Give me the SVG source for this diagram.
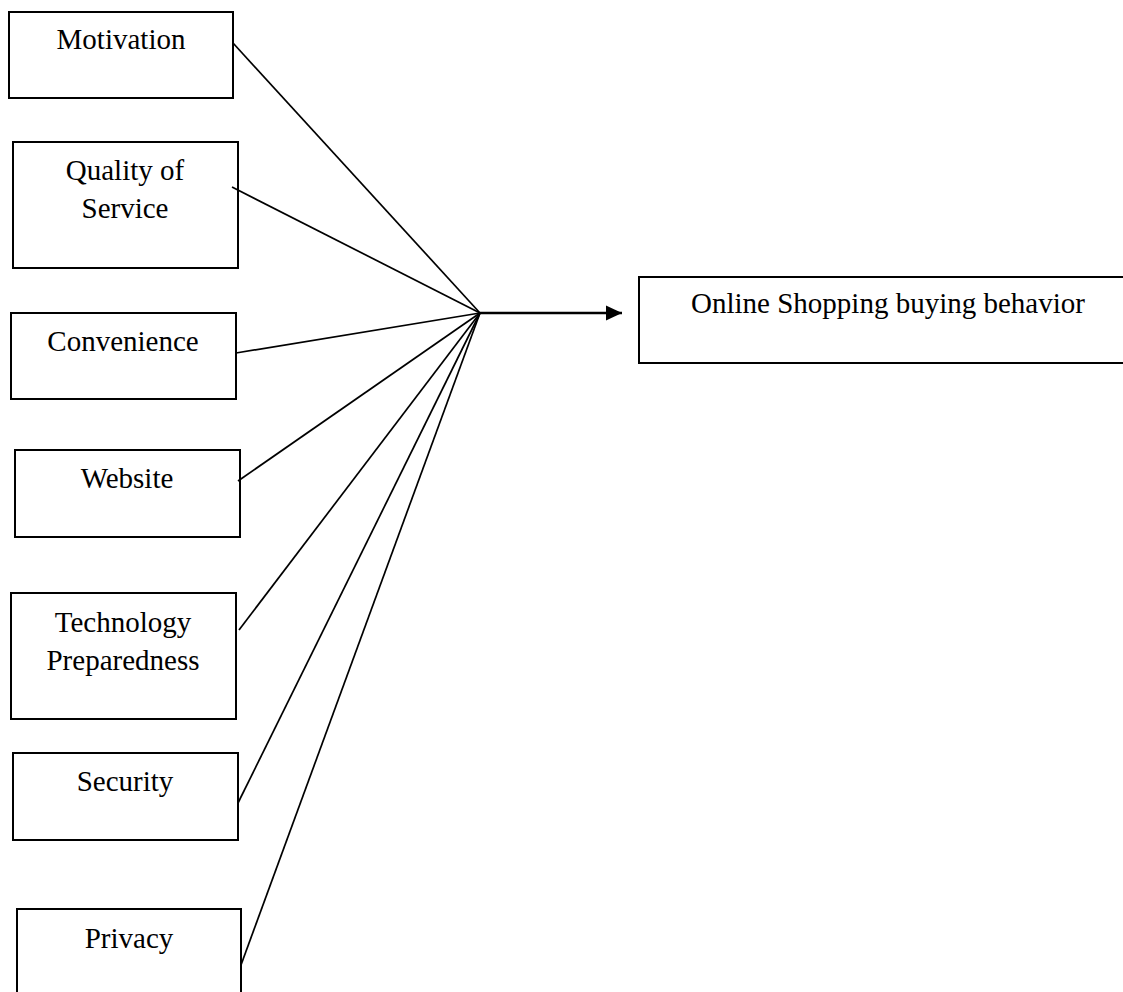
<svg xmlns="http://www.w3.org/2000/svg" width="1123" height="992" viewBox="0 0 1123 992">
<style>
.box{fill:#fff;stroke:#000;stroke-width:2}
.lbl{font-family:"Liberation Serif","Times New Roman",serif;font-size:29px;fill:#000;text-anchor:middle}
.conn{stroke:#000;stroke-width:1.7;fill:none}
.main{stroke:#000;stroke-width:2.4;fill:none}
</style>
<defs>
<marker id="arr" markerWidth="17" markerHeight="17" refX="16" refY="8" orient="auto" markerUnits="userSpaceOnUse">
<path d="M0,0.5 L16,8 L0,15.5 Z" fill="#000"/>
</marker>
</defs>
<rect width="1123" height="992" fill="#fff"/>
<g id="n-motivation"><rect class="box" x="9" y="12" width="224" height="86"/><text class="lbl" x="121" y="49">Motivation</text></g>
<g id="n-quality"><rect class="box" x="13" y="142" width="225" height="126"/><text class="lbl" x="125" y="180">Quality of</text><text class="lbl" x="125" y="218">Service</text></g>
<g id="n-convenience"><rect class="box" x="11" y="313" width="225" height="86"/><text class="lbl" x="123" y="351">Convenience</text></g>
<g id="n-website"><rect class="box" x="15" y="450" width="225" height="87"/><text class="lbl" x="127" y="488">Website</text></g>
<g id="n-technology"><rect class="box" x="11" y="593" width="225" height="126"/><text class="lbl" x="123" y="632">Technology</text><text class="lbl" x="123" y="670">Preparedness</text></g>
<g id="n-security"><rect class="box" x="13" y="753" width="225" height="87"/><text class="lbl" x="125" y="791">Security</text></g>
<g id="n-privacy"><rect class="box" x="17" y="909" width="224" height="100"/><text class="lbl" x="129" y="948">Privacy</text></g>
<g id="n-online"><rect class="box" x="639" y="277" width="490" height="86"/><text class="lbl" x="888" y="313">Online Shopping buying behavior</text></g>
<g id="connectors">
<line class="conn" x1="233" y1="43" x2="480" y2="313"/>
<line class="conn" x1="232" y1="187" x2="480" y2="313"/>
<line class="conn" x1="236" y1="353" x2="480" y2="313"/>
<line class="conn" x1="238" y1="481" x2="480" y2="313"/>
<line class="conn" x1="239" y1="630" x2="480" y2="313"/>
<line class="conn" x1="238" y1="803" x2="480" y2="313"/>
<line class="conn" x1="241" y1="965" x2="480" y2="313"/>
<line class="main" x1="480" y1="313" x2="622" y2="313" marker-end="url(#arr)"/>
</g>
</svg>
